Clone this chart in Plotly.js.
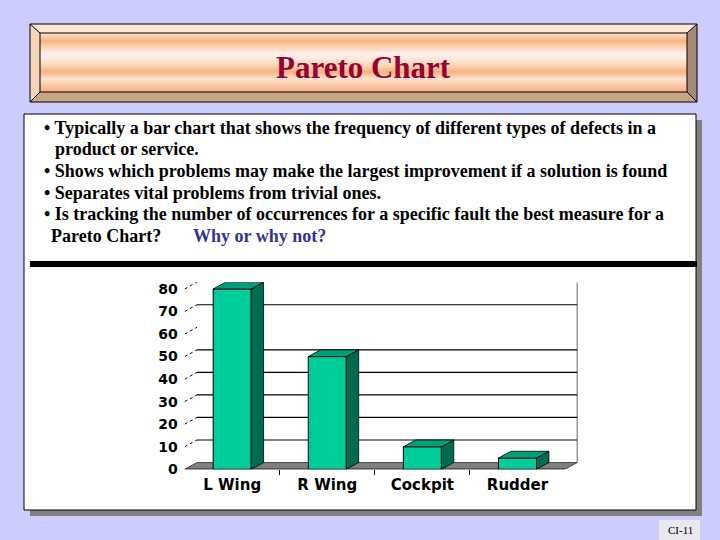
<!DOCTYPE html>
<html>
<head>
<meta charset="utf-8">
<script src="https://cdn.plot.ly/plotly-3.0.1.min.js"></script>
<style>
html,body{margin:0;padding:0;background:#CCCCFF;}
#chart{width:720px;height:540px;}
</style>
</head>
<body>
<div id="chart"></div>
<script>
// ---- data ----
const categories = ['L Wing', 'R Wing', 'Cockpit', 'Rudder'];
const defects = [80, 50, 10, 5];
const yTickVals = [0, 10, 20, 30, 40, 50, 60, 70, 80];
const wallGridVals = [10, 20, 30, 40, 50, 70];
const slideTitle = 'Pareto Chart';
const bulletLines = [
  '\u2022 Typically a bar chart that shows the frequency of different types of defects in a',
  'product or service.',
  '\u2022 Shows which problems may make the largest improvement if a solution is found',
  '\u2022 Separates vital problems from trivial ones.',
  '\u2022 Is tracking the number of occurrences for a specific fault the best measure for a',
  'Pareto Chart?'
];
const questionText = 'Why or why not?';
const slideLabel = 'CI-11';

// ---- geometry helpers (page pixels -> paper fractions, margins are 0) ----
const W = 720, H = 540;
const px = x => x / W;
const py = y => 1 - y / H;
const depthX = 0.13, depthY = 3, barW = 0.4;

const shapes = [];
function rectPx(x0, y0, x1, y1, fill, line) {
  shapes.push({type: 'rect', xref: 'paper', yref: 'paper', layer: 'below',
    x0: px(x0), x1: px(x1), y0: py(y1), y1: py(y0),
    fillcolor: fill, line: line || {width: 0}});
}
function pathPx(pts, fill, line) {
  const d = pts.map((p, i) => (i ? 'L' : 'M') + px(p[0]).toFixed(5) + ',' + py(p[1]).toFixed(5)).join(' ') + ' Z';
  shapes.push({type: 'path', xref: 'paper', yref: 'paper', layer: 'below', path: d,
    fillcolor: fill, line: line || {width: 0}});
}
function linePx(x0, y0, x1, y1, color, width) {
  shapes.push({type: 'line', xref: 'paper', yref: 'paper', layer: 'below',
    x0: px(x0), y0: py(y0), x1: px(x1), y1: py(y1), line: {color: color, width: width}});
}
function hex2rgb(h) { return [1, 3, 5].map(i => parseInt(h.substr(i, 2), 16)); }
function mix(a, b, t) { const A = hex2rgb(a), B = hex2rgb(b);
  return 'rgb(' + A.map((v, i) => Math.round(v + (B[i] - v) * t)).join(',') + ')'; }

// ---- title banner ----
const gradStops = [[33, '#FCE2CC'], [41, '#F8B484'], [47, '#FBD4B6'], [54, '#FFF0EE'], [60, '#FDE6D4'],
                   [66, '#FAD4AE'], [72, '#F7B282'], [79, '#FCE4D0'], [86, '#F9C6A0'], [92, '#F5B286']];
for (let y = 33; y < 92; y++) {
  let k = 0; while (k < gradStops.length - 2 && gradStops[k + 1][0] <= y) k++;
  const a = gradStops[k], b = gradStops[k + 1];
  const t = Math.min(1, Math.max(0, (y + 0.5 - a[0]) / (b[0] - a[0])));
  rectPx(40, y, 687, y + 1.2, mix(a[1], b[1], t));
}
pathPx([[30, 24], [697, 24], [687, 33], [40, 33]], '#FCE6D6');
pathPx([[30, 24], [40, 33], [40, 92], [30, 102]], '#F6D4B8');
pathPx([[697, 24], [687, 33], [687, 92], [697, 102]], '#A48A78');
pathPx([[30, 102], [40, 92], [687, 92], [697, 102]], '#C8A684');
rectPx(30, 24, 697, 102, 'rgba(0,0,0,0)', {color: '#000', width: 1});
rectPx(40, 33, 687, 92, 'rgba(0,0,0,0)', {color: '#000', width: 1});
linePx(30, 24, 40, 33, '#000', 1);
linePx(697, 24, 687, 33, '#000', 1);
linePx(30, 102, 40, 92, '#000', 1);
linePx(697, 102, 687, 92, '#000', 1);

// ---- content box ----
rectPx(30, 120, 702, 516, '#808080');
rectPx(24, 114, 696, 510, '#FFFFFF', {color: '#000', width: 1});
rectPx(30, 261, 697, 267, '#000000');
rectPx(659, 520, 700, 540, '#E8E8EE');

// ---- chart 3D decoration in data coordinates ----
const xLeft = -0.5, xRight = categories.length - 0.5;
// floor
shapes.push({type: 'path', xref: 'x', yref: 'y', layer: 'below',
  path: `M${xLeft},0 L${xRight},0 L${xRight + depthX},${depthY} L${xLeft + depthX},${depthY} Z`,
  fillcolor: '#808080', line: {color: '#000', width: 0.6}});
shapes.push({type: 'line', xref: 'x', yref: 'y', layer: 'below',
  x0: xLeft - 0.04, x1: xRight, y0: 0, y1: 0, line: {color: '#000', width: 1.2}});
// back wall grid
wallGridVals.forEach(v => shapes.push({type: 'line', xref: 'x', yref: 'y', layer: 'below',
  x0: xLeft + depthX, x1: xRight + depthX, y0: v + depthY, y1: v + depthY, line: {color: '#000', width: 1.2}}));
// right wall edge
shapes.push({type: 'line', xref: 'x', yref: 'y', layer: 'below',
  x0: xRight + depthX, x1: xRight + depthX, y0: depthY, y1: yTickVals[yTickVals.length - 1] + depthY,
  line: {color: '#000', width: 1.2}});
// dotted tick connectors on left wall
yTickVals.filter(v => v > 0).forEach(v => shapes.push({type: 'line', xref: 'x', yref: 'y', layer: 'below',
  x0: xLeft, x1: xLeft + depthX, y0: v, y1: v + depthY, line: {color: '#000', width: 1, dash: 'dot'}}));

// ---- traces ----
const xIdx = categories.map((c, i) => i);
const traces = [{
  type: 'bar', x: xIdx, y: defects, width: barW,
  marker: {color: '#00CC99', line: {color: '#000', width: 1}},
  hoverinfo: 'skip', showlegend: false
}];
defects.forEach((v, i) => {
  const r = i + barW / 2, l = i - barW / 2;
  traces.push({type: 'scatter', mode: 'lines', fill: 'toself', fillcolor: '#006B50',
    x: [r, r + depthX, r + depthX, r, r], y: [0, depthY, v + depthY, v, 0],
    line: {color: '#000', width: 0.8}, hoverinfo: 'skip', showlegend: false});
  traces.push({type: 'scatter', mode: 'lines', fill: 'toself', fillcolor: '#009E7A',
    x: [l, l + depthX, r + depthX, r, l], y: [v, v + depthY, v + depthY, v, v],
    line: {color: '#000', width: 0.8}, hoverinfo: 'skip', showlegend: false});
});

// ---- annotations ----
const serif = 'Liberation Serif, Times New Roman, serif';
const annotations = [];
annotations.push({xref: 'paper', yref: 'paper', x: px(363), y: py(67), xanchor: 'center', yanchor: 'middle',
  text: slideTitle, showarrow: false,
  font: {family: serif, size: 31, weight: 'bold', color: '#990033'}});
const lineY = [128, 149, 171, 193, 214, 236];
const lineX = [42, 53, 42, 42, 42, 49];
bulletLines.forEach((t, i) => annotations.push({xref: 'paper', yref: 'paper', x: px(lineX[i]), y: py(lineY[i]),
  xanchor: 'left', yanchor: 'middle', text: t, showarrow: false,
  font: {family: serif, size: 18, weight: 'bold', color: '#000'}}));
annotations.push({xref: 'paper', yref: 'paper', x: px(191), y: py(236), xanchor: 'left', yanchor: 'middle',
  text: questionText, showarrow: false,
  font: {family: serif, size: 18, weight: 'bold', color: '#333399'}});
annotations.push({xref: 'paper', yref: 'paper', x: px(680), y: py(530), xanchor: 'center', yanchor: 'middle',
  text: slideLabel, showarrow: false,
  font: {family: serif, size: 11, color: '#000'}});

const layout = {
  width: W, height: H, autosize: false,
  margin: {l: 0, r: 0, t: 0, b: 0, pad: 0},
  paper_bgcolor: '#CCCCFF', plot_bgcolor: 'rgba(0,0,0,0)',
  showlegend: false,
  xaxis: {domain: [184.65 / W, 577.4 / W], range: [xLeft, xRight + depthX],
    tickmode: 'array', tickvals: xIdx, ticktext: categories, ticks: '',
    tickfont: {family: 'DejaVu Sans, sans-serif', size: 15, weight: 'bold', color: '#000'},
    ticklabelstandoff: 5,
    minor: {tickmode: 'array', tickvals: [0.5, 1.5, 2.5], ticks: 'outside', ticklen: 5, tickwidth: 1, tickcolor: '#000', showgrid: false},
    showgrid: false, zeroline: false, showline: false, fixedrange: true},
  yaxis: {domain: [1 - 469.3 / H, 1 - 282.2 / H], range: [0, yTickVals[yTickVals.length - 1] + depthY],
    tickmode: 'array', tickvals: yTickVals, ticks: '',
    tickfont: {family: 'DejaVu Sans, sans-serif', size: 14, weight: 'bold', color: '#000'},
    ticklabelstandoff: 6,
    showgrid: false, zeroline: false, showline: false, fixedrange: true},
  shapes: shapes,
  annotations: annotations
};

Plotly.newPlot('chart', traces, layout, {displayModeBar: false, staticPlot: true});
</script>
</body>
</html>
